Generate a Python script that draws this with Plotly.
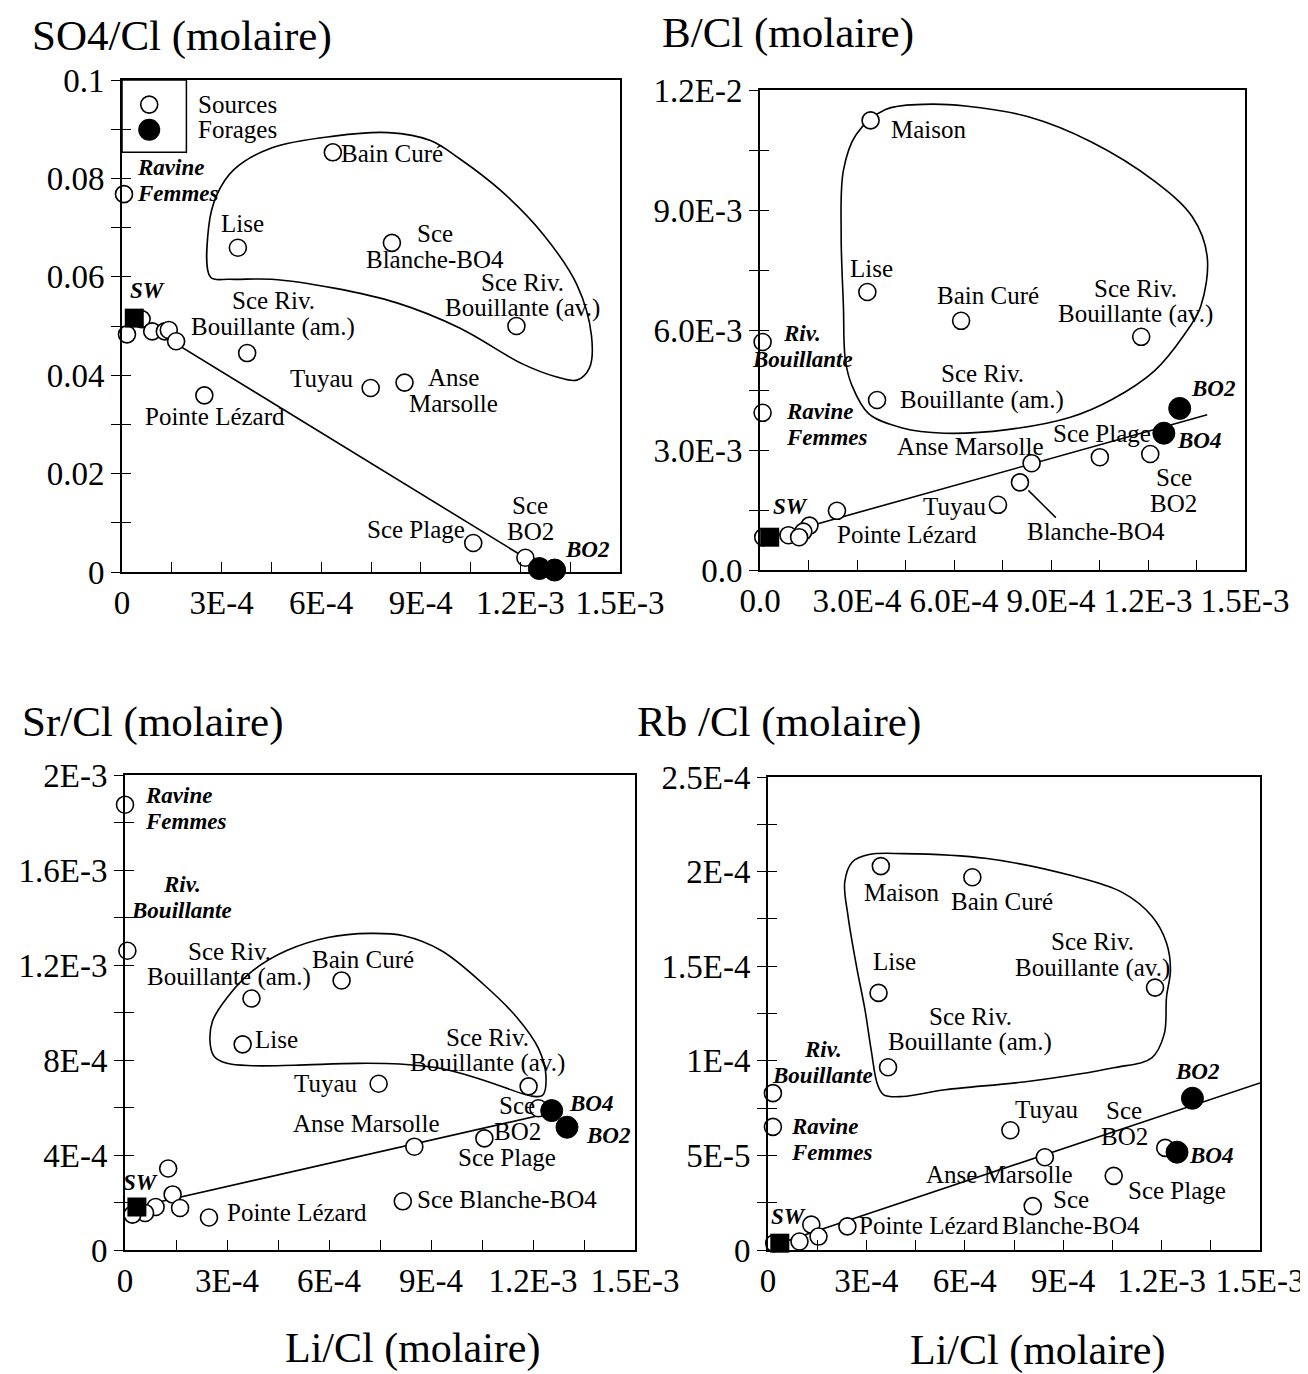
import plotly.graph_objects as go

FONT = "Liberation Serif"

# ---------------- DATA ----------------
# Panel 1 : SO4/Cl vs Li/Cl
SO4_SRC_LI = [0.6e-5, 1.5e-5, 5.9e-5, 9.1e-5, 1.29e-4, 1.41e-4, 1.63e-4, 2.48e-4, 3.77e-4,
              3.49e-4, 6.35e-4, 8.13e-4, 1.188e-3, 7.49e-4, 8.51e-4, 1.058e-3, 1.215e-3]
SO4_SRC_Y = [0.0768, 0.0483, 0.0514, 0.0489, 0.0489, 0.0492, 0.0469, 0.0359, 0.0445,
             0.0659, 0.0853, 0.0669, 0.0500, 0.0374, 0.0385, 0.0059, 0.0029]
SO4_FOR_LI = [1.257e-3, 1.303e-3]
SO4_FOR_Y = [0.0007, 0.0004]
SO4_SW_LI = [3.7e-5]
SO4_SW_Y = [0.0516]
SO4_MIX_LI = [3.7e-5, 1.27e-3]
SO4_MIX_Y = [0.0516, 0.0006]
SO4_ENV_LI = [2.67e-4, 2.61e-4, 2.86e-4, 3.37e-4, 4.5e-4, 6.39e-4, 8.03e-4, 9.29e-4, 1.017e-3,
              1.143e-3, 1.269e-3, 1.37e-3, 1.414e-3, 1.408e-3, 1.37e-3, 1.307e-3, 1.206e-3,
              1.017e-3, 8.28e-4, 6.39e-4, 4.5e-4, 3.24e-4, 2.67e-4]
SO4_ENV_Y = [0.0599, 0.0701, 0.0767, 0.0818, 0.0862, 0.0886, 0.0893, 0.0877, 0.084,
             0.0774, 0.0686, 0.0584, 0.0481, 0.0415, 0.039, 0.0397, 0.0423,
             0.0496, 0.0547, 0.0577, 0.0595, 0.0595, 0.0599]

# Panel 2 : B/Cl vs Li/Cl
B_SRC_LI = [3.42e-4, 3.32e-4, 6.22e-4, 1.179e-3, 3.62e-4, 0.8e-5, 0.8e-5, 1.051e-3, 1.207e-3,
            8.4e-4, 8.04e-4, 7.36e-4, 2.38e-4, 1.53e-4, 1.34e-4, 8.8e-5, 1.0e-5, 1.21e-4]
B_SRC_Y = [0.01124, 0.00695, 0.00623, 0.00583, 0.00425, 0.0057, 0.00393, 0.00282, 0.0029,
           0.00267, 0.00219, 0.00163, 0.00148, 0.00111, 0.00096, 0.00087, 0.00082, 0.00082]
B_FOR_LI = [1.298e-3, 1.249e-3]
B_FOR_Y = [0.00404, 0.00342]
B_SW_LI = [3.0e-5]
B_SW_Y = [0.00082]
B_MIX_LI = [3.0e-5, 1.383e-3]
B_MIX_Y = [0.00082, 0.00388]
B_ENV_LI = [2.58e-4, 2.97e-4, 3.88e-4, 5.05e-4, 6.35e-4, 8.3e-4, 1.025e-3, 1.22e-3, 1.337e-3,
            1.383e-3, 1.363e-3, 1.311e-3, 1.22e-3, 1.09e-3, 9.6e-4, 7.65e-4, 5.7e-4, 4.4e-4,
            3.36e-4, 2.84e-4, 2.64e-4, 2.58e-4, 2.51e-4, 2.58e-4]
B_ENV_Y = [0.00999, 0.01088, 0.01151, 0.01164, 0.0116, 0.01133, 0.0107, 0.00972, 0.00883,
           0.00784, 0.00659, 0.00587, 0.00498, 0.00427, 0.00382, 0.00351, 0.00342, 0.00355,
           0.00391, 0.00462, 0.00525, 0.00659, 0.00838, 0.00999]

# Panel 3 : Sr/Cl vs Li/Cl
SR_SRC_LI = [0.0, 0.7e-5, 3.72e-4, 6.37e-4, 3.46e-4, 7.46e-4, 1.187e-3, 1.216e-3, 1.057e-3,
             8.51e-4, 8.17e-4, 2.47e-4, 1.27e-4, 1.4e-4, 1.62e-4, 9.0e-5, 5.9e-5, 2.2e-5]
SR_SRC_Y = [1.875e-3, 1.26e-3, 1.059e-3, 1.135e-3, 8.66e-4, 7.0e-4, 6.89e-4, 5.97e-4, 4.7e-4,
            4.35e-4, 2.05e-4, 1.37e-4, 3.43e-4, 2.34e-4, 1.77e-4, 1.81e-4, 1.56e-4, 1.49e-4]
SR_FOR_LI = [1.255e-3, 1.3e-3]
SR_FOR_Y = [5.87e-4, 5.17e-4]
SR_SW_LI = [3.5e-5]
SR_SW_Y = [1.81e-4]
SR_MIX_LI = [3.5e-5, 1.26e-3]
SR_MIX_Y = [1.81e-4, 5.8e-4]
SR_ENV_LI = [2.51e-4, 2.57e-4, 3.0e-4, 3.75e-4, 4.74e-4, 5.97e-4, 7.21e-4, 8.2e-4, 9.31e-4,
             1.055e-3, 1.154e-3, 1.216e-3, 1.238e-3, 1.228e-3, 1.197e-3, 1.055e-3, 9.31e-4,
             8.08e-4, 6.84e-4, 4.98e-4, 3.75e-4, 3.0e-4, 2.63e-4, 2.51e-4]
SR_ENV_Y = [8.63e-4, 9.62e-4, 1.062e-3, 1.175e-3, 1.26e-3, 1.316e-3, 1.333e-3, 1.323e-3, 1.26e-3,
            1.118e-3, 9.77e-4, 8.49e-4, 7.36e-4, 6.51e-4, 6.48e-4, 7.15e-4, 7.64e-4,
            7.83e-4, 7.86e-4, 7.78e-4, 7.76e-4, 7.86e-4, 8.14e-4, 8.63e-4]

# Panel 4 : Rb/Cl vs Li/Cl
RB_SRC_LI = [3.44e-4, 6.23e-4, 3.37e-4, 1.18e-3, 3.66e-4, 1.5e-5, 1.5e-5, 7.39e-4, 1.211e-3,
             8.44e-4, 1.054e-3, 8.07e-4, 2.42e-4, 1.32e-4, 1.54e-4, 9.6e-5, 1.9e-5]
RB_SRC_Y = [2.029e-4, 1.97e-4, 1.359e-4, 1.387e-4, 9.66e-5, 8.29e-5, 6.51e-5, 6.33e-5, 5.4e-5,
            4.9e-5, 3.92e-5, 2.32e-5, 1.25e-5, 1.34e-5, 7.1e-6, 4.5e-6, 3.6e-6]
RB_FOR_LI = [1.294e-3, 1.247e-3]
RB_FOR_Y = [8.02e-5, 5.17e-5]
RB_SW_LI = [3.6e-5]
RB_SW_Y = [3.6e-6]
RB_MIX_LI = [3.6e-5, 1.5e-3]
RB_MIX_Y = [3.6e-6, 8.83e-5]
RB_ENV_LI = [2.34e-4, 2.57e-4, 3.08e-4, 4.11e-4, 6.68e-4, 9.25e-4, 1.08e-3, 1.17e-3, 1.215e-3,
             1.227e-3, 1.215e-3, 1.208e-3, 1.17e-3, 1.054e-3, 7.97e-4, 5.4e-4, 4.11e-4, 3.53e-4,
             3.34e-4, 3.15e-4, 2.96e-4, 2.7e-4, 2.44e-4, 2.34e-4]
RB_ENV_Y = [1.944e-4, 2.051e-4, 2.09e-4, 2.095e-4, 2.069e-4, 1.979e-4, 1.89e-4, 1.765e-4, 1.623e-4,
            1.48e-4, 1.337e-4, 1.141e-4, 1.016e-4, 9.63e-5, 8.92e-5, 8.47e-5, 8.11e-5, 8.2e-5,
            8.74e-5, 1.052e-4, 1.266e-4, 1.498e-4, 1.765e-4, 1.944e-4]

# Tick labels
X_LABELS_A = ["0", "3E-4", "6E-4", "9E-4", "1.2E-3", "1.5E-3"]
X_LABELS_B = ["0.0", "3.0E-4", "6.0E-4", "9.0E-4", "1.2E-3", "1.5E-3"]
SO4_Y_LABELS = ["0", "0.02", "0.04", "0.06", "0.08", "0.1"]
B_Y_LABELS = ["0.0", "3.0E-3", "6.0E-3", "9.0E-3", "1.2E-2"]
SR_Y_LABELS = ["0", "4E-4", "8E-4", "1.2E-3", "1.6E-3", "2E-3"]
RB_Y_LABELS = ["0", "5E-5", "1E-4", "1.5E-4", "2E-4", "2.5E-4"]

TITLES = ["SO4/Cl (molaire)", "B/Cl (molaire)", "Sr/Cl (molaire)", "Rb /Cl (molaire)"]
XTITLE = "Li/Cl (molaire)"

# ---------------- FIGURE ----------------
W, H = 1308, 1374
OFF = 8  # page body margin
fig = go.Figure()

def px_x(px):
    return (px - OFF) / W

def px_y(py):
    return 1 - (py - OFF) / H

# plot-area rectangles in pixels: (left, right, top, bottom)
boxes = [(122, 620, 80, 572), (760, 1245, 90, 570), (125, 635, 775, 1250), (768, 1260, 777, 1250)]

def ticks(n, step):
    return [round(i * step, 12) for i in range(n + 1)]

panels = [
    dict(src=(SO4_SRC_LI, SO4_SRC_Y), fr=(SO4_FOR_LI, SO4_FOR_Y), sw=(SO4_SW_LI, SO4_SW_Y),
         mix=(SO4_MIX_LI, SO4_MIX_Y), env=(SO4_ENV_LI, SO4_ENV_Y), yr=0.1,
         yt=ticks(10, 0.01), ylab=SO4_Y_LABELS, ystep=2, xlab=X_LABELS_A),
    dict(src=(B_SRC_LI, B_SRC_Y), fr=(B_FOR_LI, B_FOR_Y), sw=(B_SW_LI, B_SW_Y),
         mix=(B_MIX_LI, B_MIX_Y), env=(B_ENV_LI, B_ENV_Y), yr=0.012,
         yt=ticks(8, 0.0015), ylab=B_Y_LABELS, ystep=2, xlab=X_LABELS_B),
    dict(src=(SR_SRC_LI, SR_SRC_Y), fr=(SR_FOR_LI, SR_FOR_Y), sw=(SR_SW_LI, SR_SW_Y),
         mix=(SR_MIX_LI, SR_MIX_Y), env=(SR_ENV_LI, SR_ENV_Y), yr=0.002,
         yt=ticks(10, 0.0002), ylab=SR_Y_LABELS, ystep=2, xlab=X_LABELS_A),
    dict(src=(RB_SRC_LI, RB_SRC_Y), fr=(RB_FOR_LI, RB_FOR_Y), sw=(RB_SW_LI, RB_SW_Y),
         mix=(RB_MIX_LI, RB_MIX_Y), env=(RB_ENV_LI, RB_ENV_Y), yr=0.00025,
         yt=ticks(10, 0.000025), ylab=RB_Y_LABELS, ystep=2, xlab=X_LABELS_A),
]

XT = ticks(10, 0.00015)
TICKFONT = dict(family=FONT, size=33, color="black")
layout = {}
annotations = []
shapes = []

for i, p in enumerate(panels):
    n = i + 1
    xa = "x" if n == 1 else f"x{n}"
    ya = "y" if n == 1 else f"y{n}"
    yo = f"y{n + 4}"
    l, r, t, b = boxes[i]
    xdom = [px_x(l), px_x(r)]
    ydom = [px_y(b), px_y(t)]
    xtext = [p["xlab"][k // 2] if k % 2 == 0 else "" for k in range(len(XT))]
    ytext = [p["ylab"][k // p["ystep"]] if k % p["ystep"] == 0 else "" for k in range(len(p["yt"]))]
    layout[f"xaxis{'' if n == 1 else n}"] = dict(
        domain=xdom, range=[0, 0.0015], anchor=ya, tickvals=XT, ticktext=xtext,
        ticks="inside", ticklen=10, tickwidth=1.3, tickcolor="black",
        showline=True, linecolor="black", linewidth=2, mirror=True, automargin=False,
        showgrid=False, zeroline=False, tickfont=TICKFONT, fixedrange=True)
    layout[f"yaxis{'' if n == 1 else n}"] = dict(
        domain=ydom, range=[0, p["yr"]], anchor=xa, tickvals=p["yt"], ticktext=ytext,
        ticks="outside", ticklen=9, tickwidth=1.3, tickcolor="black", automargin=False,
        showline=True, linecolor="black", linewidth=2, mirror=True,
        showgrid=False, zeroline=False, tickfont=TICKFONT, fixedrange=True)
    layout[f"yaxis{n + 4}"] = dict(
        overlaying=ya, anchor=xa, range=[0, p["yr"]], tickvals=p["yt"], automargin=False,
        ticks="inside", ticklen=9, tickwidth=1.3, tickcolor="black",
        showticklabels=False, showline=False, showgrid=False, zeroline=False, fixedrange=True)
    fig.add_trace(go.Scatter(x=[None], y=[None], xaxis=xa, yaxis=yo, showlegend=False,
                             hoverinfo="skip"))
    # envelope
    fig.add_trace(go.Scatter(x=p["env"][0], y=p["env"][1], xaxis=xa, yaxis=ya, mode="lines",
                             line=dict(color="black", width=1.6, shape="spline", smoothing=1.0),
                             showlegend=False, hoverinfo="skip"))
    # mixing line
    fig.add_trace(go.Scatter(x=p["mix"][0], y=p["mix"][1], xaxis=xa, yaxis=ya, mode="lines",
                             line=dict(color="black", width=1.6), showlegend=False,
                             hoverinfo="skip", cliponaxis=False))
    # sources
    fig.add_trace(go.Scatter(x=p["src"][0], y=p["src"][1], xaxis=xa, yaxis=ya, mode="markers",
                             marker=dict(symbol="circle", size=17, color="white",
                                         line=dict(color="black", width=1.6)),
                             showlegend=False, cliponaxis=False))
    # forages
    fig.add_trace(go.Scatter(x=p["fr"][0], y=p["fr"][1], xaxis=xa, yaxis=ya, mode="markers",
                             marker=dict(symbol="circle", size=22, color="black",
                                         line=dict(color="black", width=1)),
                             showlegend=False, cliponaxis=False))
    # sea water
    fig.add_trace(go.Scatter(x=p["sw"][0], y=p["sw"][1], xaxis=xa, yaxis=ya, mode="markers",
                             marker=dict(symbol="square", size=19, color="black"),
                             showlegend=False, cliponaxis=False))

# legend (panel 1)
shapes.append(dict(type="rect", xref="x", yref="y", x0=0, x1=1.94e-4, y0=0.0853, y1=0.1,
                   line=dict(color="black", width=1.5)))
fig.add_trace(go.Scatter(x=[8.2e-5], y=[0.095], xaxis="x", yaxis="y", mode="markers",
                         marker=dict(size=17, color="white", line=dict(color="black", width=1.6)),
                         showlegend=False))
fig.add_trace(go.Scatter(x=[8.2e-5], y=[0.0899], xaxis="x", yaxis="y", mode="markers",
                         marker=dict(size=22, color="black"), showlegend=False))

LBL = 25
BI = 23
LS = 26  # line spacing in px for two-line labels

def ann(n, x, y, text, size=None, xanchor="center", align="center", bi=False):
    xr = "x" if n == 1 else f"x{n}"
    yr = "y" if n == 1 else f"y{n}"
    if size is None:
        size = BI if bi else LBL
    lines = text.split("<br>")
    nl = len(lines)
    for k, line in enumerate(lines):
        t = f"<b><i>{line}</i></b>" if bi else line
        annotations.append(dict(x=x, y=y, xref=xr, yref=yr, text=t, showarrow=False,
                                xanchor=xanchor, yanchor="middle", align=align,
                                yshift=((nl - 1) / 2 - k) * LS,
                                font=dict(family=FONT, size=size, color="black")))

# panel 1 labels
ann(1, 2.23e-4, 0.095, "Sources", xanchor="left")
ann(1, 2.23e-4, 0.0899, "Forages", xanchor="left")
ann(1, 4.0e-5, 0.0795, "Ravine<br>Femmes", xanchor="left", align="left", bi=True)
ann(1, -1.83e-4, 0.0505, "Riv.<br>Bouillante")
ann(1, 7.8e-5, 0.0573, "SW", bi=True)
ann(1, 4.56e-4, 0.0525, "Sce Riv.<br>Bouillante (am.)")
ann(1, 3.62e-4, 0.0708, "Lise")
ann(1, 6.55e-4, 0.0851, "Bain Curé", xanchor="left")
ann(1, 9.42e-4, 0.0661, "Sce<br>Blanche-BO4")
ann(1, 1.206e-3, 0.0563, "Sce Riv.<br>Bouillante (av.)")
ann(1, 6.01e-4, 0.0393, "Tuyau")
ann(1, 9.98e-4, 0.0368, "Anse<br>Marsolle")
ann(1, 2.8e-4, 0.0316, "Pointe Lézard")
ann(1, 8.85e-4, 0.0086, "Sce Plage")
ann(1, 1.229e-3, 0.0108, "Sce<br>BO2")
ann(1, 1.402e-3, 0.0045, "BO2", bi=True)

# panel 2 labels
ann(2, 3.98e-4, 0.01102, "Maison", xanchor="left")
ann(2, 3.46e-4, 0.00753, "Lise")
ann(2, 7.04e-4, 0.00686, "Bain Curé")
ann(2, 1.162e-3, 0.00672, "Sce Riv.<br>Bouillante (av.)")
ann(2, 1.3e-4, 0.00559, "Riv.<br>Bouillante", bi=True)
ann(2, 7.3e-5, 0.00364, "Ravine<br>Femmes", xanchor="left", align="left", bi=True)
ann(2, 6.87e-4, 0.00458, "Sce Riv.<br>Bouillante (am.)")
ann(2, 1.402e-3, 0.00453, "BO2", bi=True)
ann(2, 1.357e-3, 0.00324, "BO4", bi=True)
ann(2, 1.058e-3, 0.00342, "Sce Plage")
ann(2, 6.5e-4, 0.00308, "Anse Marsolle")
ann(2, 1.279e-3, 0.00199, "Sce<br>BO2")
ann(2, 6.02e-4, 0.0016, "Tuyau")
ann(2, 1.038e-3, 0.00096, "Blanche-BO4")
ann(2, 4.55e-4, 0.00089, "Pointe Lézard")
ann(2, 9.5e-5, 0.00158, "SW", bi=True)
shapes.append(dict(type="line", xref="x2", yref="y2", x0=8.3e-4, y0=0.00199, x1=9.15e-4,
                   y1=0.00131, line=dict(color="black", width=1.5)))

# panel 3 labels
ann(3, 5.3e-5, 1.857e-3, "Ravine<br>Femmes", xanchor="left", align="left", bi=True)
ann(3, 1.67e-4, 1.483e-3, "Riv.<br>Bouillante", bi=True)
ann(3, 3.07e-4, 1.203e-3, "Sce Riv.<br>Bouillante (am.)")
ann(3, 6.99e-4, 1.224e-3, "Bain Curé")
ann(3, 3.75e-4, 8.85e-4, "Lise", xanchor="left")
ann(3, 5.91e-4, 7.03e-4, "Tuyau")
ann(3, 1.067e-3, 8.42e-4, "Sce Riv.<br>Bouillante (av.)")
ann(3, 1.154e-3, 5.52e-4, "Sce<br>BO2")
ann(3, 1.37e-3, 6.16e-4, "BO4", bi=True)
ann(3, 1.42e-3, 4.81e-4, "BO2", bi=True)
ann(3, 7.09e-4, 5.34e-4, "Anse Marsolle")
ann(3, 1.123e-3, 3.89e-4, "Sce Plage")
ann(3, 8.54e-4, 2.12e-4, "Sce Blanche-BO4", xanchor="left")
ann(3, 2.94e-4, 1.56e-4, "Pointe Lézard", xanchor="left")
ann(3, 4.7e-5, 2.83e-4, "SW", bi=True)

# panel 4 labels
ann(4, 4.09e-4, 1.887e-4, "Maison")
ann(4, 7.13e-4, 1.84e-4, "Bain Curé")
ann(4, 3.86e-4, 1.525e-4, "Lise")
ann(4, 9.9e-4, 1.56e-4, "Sce Riv.<br>Bouillante (av.)")
ann(4, 6.17e-4, 1.168e-4, "Sce Riv.<br>Bouillante (am.)")
ann(4, 1.67e-4, 9.9e-5, "Riv.<br>Bouillante", bi=True)
ann(4, 6.4e-5, 5.83e-5, "Ravine<br>Femmes", xanchor="left", align="left", bi=True)
ann(4, 8.48e-4, 7.4e-5, "Tuyau")
ann(4, 1.086e-3, 6.69e-5, "Sce<br>BO2")
ann(4, 1.307e-3, 9.45e-5, "BO2", bi=True)
ann(4, 1.35e-3, 4.99e-5, "BO4", bi=True)
ann(4, 7.07e-4, 4.01e-5, "Anse Marsolle")
ann(4, 1.247e-3, 3.12e-5, "Sce Plage")
ann(4, 9.25e-4, 2.0e-5, "Sce<br>Blanche-BO4")
ann(4, 2.7e-4, 1.28e-5, "Pointe Lézard", xanchor="left")
ann(4, 6.4e-5, 1.78e-5, "SW", bi=True)

# titles
title_pos = [(30, 36), (660, 33), (20, 722), (635, 722)]
for (px, py), txt in zip(title_pos, TITLES):
    annotations.append(dict(x=px_x(px), y=px_y(py), xref="paper", yref="paper", text=txt,
                            showarrow=False, xanchor="left", yanchor="middle",
                            font=dict(family=FONT, size=43, color="black")))
for px, py in [(413, 1348), (1037, 1350)]:
    annotations.append(dict(x=px_x(px), y=px_y(py), xref="paper", yref="paper", text=XTITLE,
                            showarrow=False, xanchor="center", yanchor="middle",
                            font=dict(family=FONT, size=42, color="black")))

fig.update_layout(width=W, height=H, margin=dict(l=0, r=0, t=0, b=0),
                  paper_bgcolor="white", plot_bgcolor="white", showlegend=False,
                  annotations=annotations, shapes=shapes, **layout)

fig.write_html("out.html")
